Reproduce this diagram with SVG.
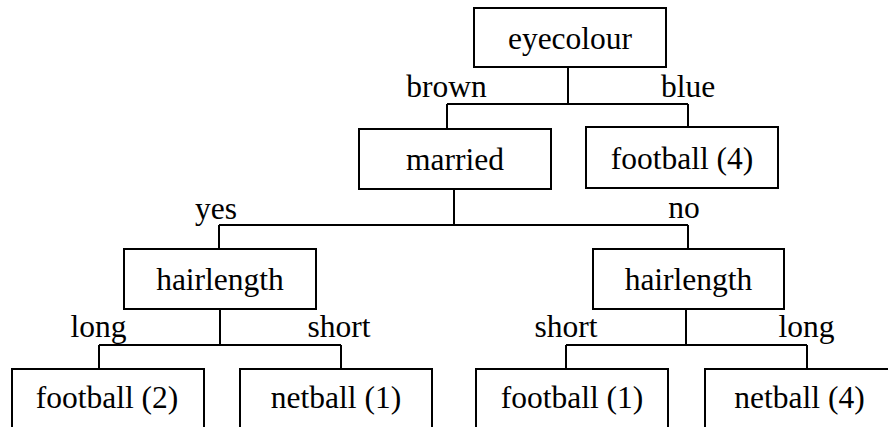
<svg xmlns="http://www.w3.org/2000/svg" width="888" height="427" viewBox="0 0 888 427">
<defs>
<style>
.box{fill:#fff;stroke:#000;stroke-width:2}
.wire{fill:none;stroke:#000;stroke-width:2}
</style>
</defs>
<rect x="0" y="0" width="888" height="427" fill="#fff"/>
<g font-family="Liberation Serif" font-size="31.5" text-anchor="middle" fill="#000">
<g id="connectors">
<path class="wire" d="M568 67V104M447 104H688M447 104V129M688 104V127"/>
<path class="wire" d="M454 189V225M219 225H688M219 225V249M688 225V249"/>
<path class="wire" d="M220 309V345M99 345H341M99 345V369M341 345V369"/>
<path class="wire" d="M686 309V345M566 345H807M566 345V369M807 345V369"/>
<text x="446.5" y="97">brown</text>
<text x="688" y="97">blue</text>
<text x="216" y="219">yes</text>
<text x="684" y="218">no</text>
<text x="98.5" y="337">long</text>
<text x="339" y="337">short</text>
<text x="566" y="337">short</text>
<text x="806.5" y="337">long</text>
</g>
<g id="eyecolour"><rect class="box" x="474" y="8" width="192" height="59"/><text x="570" y="49">eyecolour</text></g>
<g id="married"><rect class="box" x="359" y="129" width="192" height="60"/><text x="455" y="170">married</text></g>
<g id="football4"><rect class="box" x="586" y="127" width="192" height="61"/><text x="682" y="169">football (4)</text></g>
<g id="hairlength-yes"><rect class="box" x="124" y="249" width="192" height="60"/><text x="220" y="290">hairlength</text></g>
<g id="hairlength-no"><rect class="box" x="593" y="249" width="191" height="60"/><text x="688.5" y="290">hairlength</text></g>
<g id="football2"><rect class="box" x="12" y="369" width="192" height="70"/><text x="107" y="408">football (2)</text></g>
<g id="netball1"><rect class="box" x="240" y="369" width="192" height="70"/><text x="336" y="408">netball (1)</text></g>
<g id="football1"><rect class="box" x="476" y="369" width="192" height="70"/><text x="572" y="408">football (1)</text></g>
<g id="netball4"><rect class="box" x="705" y="369" width="192" height="70"/><text x="799.5" y="408">netball (4)</text></g>
</g>
</svg>
